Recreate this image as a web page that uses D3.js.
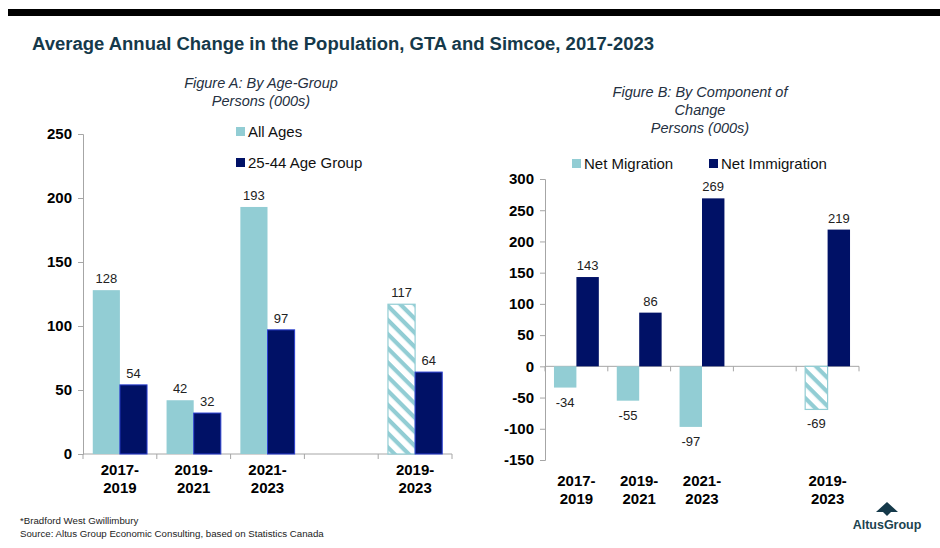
<!DOCTYPE html>
<html>
  <head>
    <meta charset="utf-8">
    <script type="text/javascript" src="https://cdn.jsdelivr.net/npm/d3@7/dist/d3.min.js"></script>
    <style>
      body {
        margin: 0;
        background: #fff;
      }
      svg text {
        font-family: 'Liberation Sans', Arial, sans-serif;
      }
      .axis path,
      .axis line {
        stroke: #a6a6a6;
        fill: none;
      }
      .axis text {
        font-size: 15px;
        font-weight: bold;
        fill: #000;
      }
      .catLabel {
        font-size: 15px;
        font-weight: bold;
        fill: #000;
      }
      .valLabel {
        font-size: 13px;
        fill: #222;
      }
      .subTitle {
        font-size: 14.5px;
        font-style: italic;
        fill: #24303f;
      }
      .legendText {
        font-size: 15px;
        fill: #111;
      }
    </style>
  </head>
  <body>
    <svg id="chart" width="940" height="548"></svg>

    <script type="text/javascript">
      // data
      var categories = ['2017-2019', '2019-2021', '2021-2023', 'gap', '2019-2023'];
      var catLines = [['2017-', '2019'], ['2019-', '2021'], ['2021-', '2023'], [], ['2019-', '2023']];
      // the last slot (2019-2023) is Bradford West Gwillimbury -> hatched
      var allAges = [128, 42, 193, null, 117];
      var age2544 = [54, 32, 97, null, 64];
      var netMigration = [-34, -55, -97, null, -69];
      var netImmigration = [143, 86, 269, null, 219];
      var ticksA = [0, 50, 100, 150, 200, 250];
      var ticksB = [-150, -100, -50, 0, 50, 100, 150, 200, 250, 300];

      var lightCol = '#92cdd4';
      var darkCol = '#001166';

      var svg = d3.select('#chart');

      // hatched pattern for the last light bar
      var defs = svg.append('defs');
      var pat = defs
        .append('pattern')
        .attr('id', 'hatch')
        .attr('patternUnits', 'userSpaceOnUse')
        .attr('width', 10)
        .attr('height', 10)
        .attr('patternTransform', 'rotate(45)');
      pat.append('rect').attr('width', 10).attr('height', 10).attr('fill', '#fff');
      pat.append('rect').attr('width', 10).attr('height', 4.2).attr('fill', lightCol);

      // top black bar
      svg.append('rect').attr('x', 8).attr('y', 9).attr('width', 932).attr('height', 7).attr('fill', '#000');

      svg
        .append('text')
        .attr('x', 32)
        .attr('y', 50)
        .attr('textLength', 622)
        .attr('lengthAdjust', 'spacingAndGlyphs')
        .style('font-size', '18px')
        .style('font-weight', 'bold')
        .style('fill', '#15394a')
        .text('Average Annual Change in the Population, GTA and Simcoe, 2017-2023');

      // draws one grouped bar panel
      function drawPanel(opt) {
        var x0 = d3.scaleBand().domain(categories).range([opt.left, opt.right]).padding(0);
        var x1 = d3
          .scaleBand()
          .domain([0, 1])
          .range([0, x0.bandwidth()])
          .paddingInner(0)
          .paddingOuter(opt.outerPad);
        var y = d3.scaleLinear().domain(opt.domain).range([opt.bottom, opt.top]);

        var g = svg.append('g');

        // y axis
        g.append('g')
          .attr('class', 'axis')
          .attr('transform', 'translate(' + opt.left + ',0)')
          .call(
            d3.axisLeft(y)
              .tickValues(opt.ticks)
              .tickFormat(function (d) { return String(d); })
              .tickSize(5)
              .tickSizeOuter(5)
              .tickPadding(6)
          );

        // x axis line at zero with ticks between categories
        var y0 = y(0);
        g.append('line')
          .attr('x1', opt.left)
          .attr('x2', opt.right)
          .attr('y1', y0)
          .attr('y2', y0)
          .attr('stroke', '#a6a6a6');
        var tickXs = categories.map(function (c) { return x0(c); }).concat([opt.right]);
        g.selectAll('.xtick')
          .data(tickXs)
          .enter()
          .append('line')
          .attr('x1', function (d) { return d; })
          .attr('x2', function (d) { return d; })
          .attr('y1', y0)
          .attr('y2', y0 + 5)
          .attr('stroke', '#a6a6a6');

        // bars
        var series = [opt.s1, opt.s2];
        series.forEach(function (vals, si) {
          var bars = g.append('g');
          categories.forEach(function (c, i) {
            var v = vals[i];
            if (v === null) return;
            var bx = x0(c) + x1(si);
            var hatched = si === 0 && c === '2019-2023';
            bars
              .append('rect')
              .attr('x', bx)
              .attr('width', x1.bandwidth())
              .attr('y', Math.min(y(v), y0))
              .attr('height', Math.abs(y(v) - y0))
              .attr('fill', hatched ? 'url(#hatch)' : si === 0 ? lightCol : darkCol)
              .attr('stroke', hatched ? lightCol : si === 1 && opt.edge ? '#2a3fd0' : 'none')
              .attr('stroke-width', hatched ? 1.2 : 1);
            bars
              .append('text')
              .attr('class', 'valLabel')
              .attr('text-anchor', 'middle')
              .attr('x', bx + x1.bandwidth() / 2)
              .attr('y', v >= 0 ? y(v) - 7 : y(v) + 19)
              .text(String(v));
          });
        });

        // category labels
        categories.forEach(function (c, i) {
          var t = g
            .append('text')
            .attr('class', 'catLabel')
            .attr('text-anchor', 'middle')
            .attr('x', x0(c) + x0.bandwidth() / 2)
            .attr('y', opt.catY);
          catLines[i].forEach(function (line, k) {
            t.append('tspan')
              .attr('x', x0(c) + x0.bandwidth() / 2)
              .attr('dy', k === 0 ? 0 : 18)
              .text(line);
          });
        });
      }

      drawPanel({
        left: 83, right: 452, top: 134, bottom: 454,
        domain: [0, 250], ticks: ticksA, outerPad: 0.36,
        s1: allAges, s2: age2544, catY: 475, edge: true
      });
      drawPanel({
        left: 545, right: 859, top: 179, bottom: 460,
        domain: [-150, 300], ticks: ticksB, outerPad: 0.4,
        s1: netMigration, s2: netImmigration, catY: 486, edge: false
      });

      // subtitles
      function subTitle(lines, cx, y0) {
        var t = svg.append('text').attr('class', 'subTitle').attr('text-anchor', 'middle');
        lines.forEach(function (l, k) {
          t.append('tspan').attr('x', cx).attr('y', y0 + k * 18).text(l);
        });
      }
      subTitle(['Figure A: By Age-Group', 'Persons (000s)'], 261, 88);
      subTitle(['Figure B: By Component of', 'Change', 'Persons (000s)'], 700, 97);

      // legends
      function legendItem(x, y, col, label) {
        svg.append('rect').attr('x', x).attr('y', y - 5).attr('width', 9).attr('height', 9).attr('fill', col);
        svg.append('text').attr('class', 'legendText').attr('x', x + 12).attr('y', y + 5).text(label);
      }
      legendItem(236, 132, lightCol, 'All Ages');
      legendItem(236, 163, darkCol, '25-44 Age Group');
      legendItem(572, 164, lightCol, 'Net Migration');
      legendItem(709, 164, darkCol, 'Net Immigration');

      // footer
      svg.append('text').attr('x', 20).attr('y', 524).style('font-size', '9.7px').style('fill', '#222')
        .text('*Bradford West Gwillimbury');
      svg.append('text').attr('x', 20).attr('y', 537).style('font-size', '9.7px').style('fill', '#222')
        .text('Source:  Altus Group Economic Consulting, based on Statistics Canada');

      // logo
      svg.append('path').attr('d', 'M876,512 L887,502 L898,512 L891,512 L887,516 L883,512 Z').attr('fill', '#15394a');
      svg.append('text').attr('x', 887).attr('y', 529).attr('text-anchor', 'middle')
        .style('font-size', '12.5px').style('font-weight', 'bold').style('fill', '#1b4350')
        .text('AltusGroup');
    </script>
  </body>
</html>
